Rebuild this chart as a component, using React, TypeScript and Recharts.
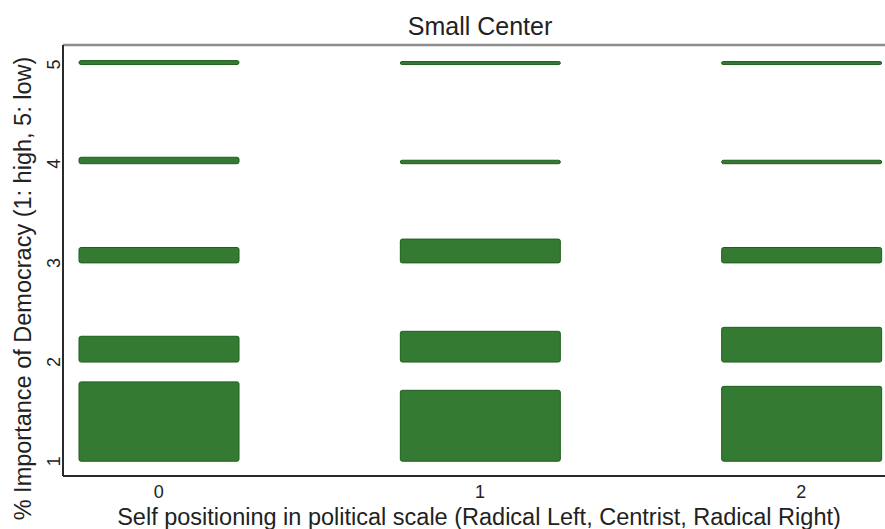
import { ComposedChart, Bar, XAxis, YAxis, ReferenceLine, Label } from "recharts";

const FONT = "'Liberation Sans', Arial, Helvetica, sans-serif";
const FILL = "#357a32";
const EDGE = "#1d5f1d";

// self-placement on the political scale
const positions = ["0", "1", "2"];
// importance of democracy, 1 = high ... 5 = low
const levels = [1, 2, 3, 4, 5];

// share of each position group answering a given level
const level1 = [0.8, 0.715, 0.755];
const level2 = [0.26, 0.31, 0.35];
const level3 = [0.155, 0.24, 0.155];
const level4 = [0.065, 0.035, 0.035];
const level5 = [0.04, 0.03, 0.03];
const shares = [level1, level2, level3, level4, level5];

const yTicks = [1, 2, 3, 4, 5];
const Y_MIN = 0.851;
const Y_MAX = 5.197;

// each level becomes a range bar that starts at the level and rises by its share
const data = positions.map((p, i) => {
  const row: Record<string, any> = { position: p };
  levels.forEach((lv, j) => {
    row[`l${lv}`] = [lv, lv + shares[j][i]];
  });
  return row;
});

const BAR_W = 160;

const YTick = ({ x, y, payload }: any) => (
  <text
    transform={`translate(${x},${y}) rotate(-90)`}
    textAnchor="middle"
    fontSize={18}
    fontFamily={FONT}
    fill="#222"
  >
    {payload.value}
  </text>
);

const XLabel = ({ viewBox }: any) => (
  <text
    x={viewBox.x + viewBox.width / 2 + 5}
    y={viewBox.y + 49}
    textAnchor="middle"
    fontSize={23.5}
    fontFamily={FONT}
    fill="#222"
  >
    Self positioning in political scale (Radical Left, Centrist, Radical Right)
  </text>
);

const YLabel = ({ viewBox }: any) => {
  const cx = viewBox.x + 31;
  const cy = viewBox.y + viewBox.height / 2 + 28;
  return (
    <text
      transform={`translate(${cx},${cy}) rotate(-90)`}
      textAnchor="middle"
      fontSize={23.5}
      fontFamily={FONT}
      fill="#222"
    >
      % Importance of Democracy (1: high, 5: low)
    </text>
  );
};

const Title = ({ viewBox }: any) => (
  <text
    x={480}
    y={viewBox.y - 10}
    textAnchor="middle"
    fontSize={25}
    fontFamily={FONT}
    fill="#222"
  >
    Small Center
  </text>
);

export default function App() {
  return (
    <>
      <style>{"body { margin: 0; }"}</style>
      <div style={{ width: 885, height: 529, overflow: "hidden" }}>
        <ComposedChart
          width={885}
          height={529}
          data={data}
          margin={{ top: 45, right: 0, bottom: 0, left: 0 }}
          barGap={-BAR_W}
        >
          <XAxis
            dataKey="position"
            type="category"
            height={53}
            padding={{ left: -65, right: -77 }}
            axisLine={{ stroke: "#2a2a2a", strokeWidth: 2 }}
            tickLine={false}
            tickSize={6}
            tickMargin={3}
            tick={{ fontSize: 18, fontFamily: FONT, fill: "#222" }}
          >
            <Label content={XLabel} />
          </XAxis>
          <YAxis
            type="number"
            domain={[Y_MIN, Y_MAX]}
            ticks={yTicks}
            allowDataOverflow
            width={63}
            axisLine={{ stroke: "#2a2a2a", strokeWidth: 2 }}
            tickLine={false}
            tickSize={0}
            tickMargin={3}
            tick={<YTick />}
          >
            <Label content={YLabel} />
          </YAxis>
          <ReferenceLine y={Y_MAX} stroke="#8c8c8c" strokeWidth={2.5}>
            <Label content={Title} />
          </ReferenceLine>
          {levels.map((lv) => (
            <Bar
              key={lv}
              dataKey={`l${lv}`}
              barSize={BAR_W}
              fill={FILL}
              stroke={EDGE}
              strokeWidth={1}
              radius={2}
              isAnimationActive={false}
            />
          ))}
        </ComposedChart>
      </div>
    </>
  );
}
